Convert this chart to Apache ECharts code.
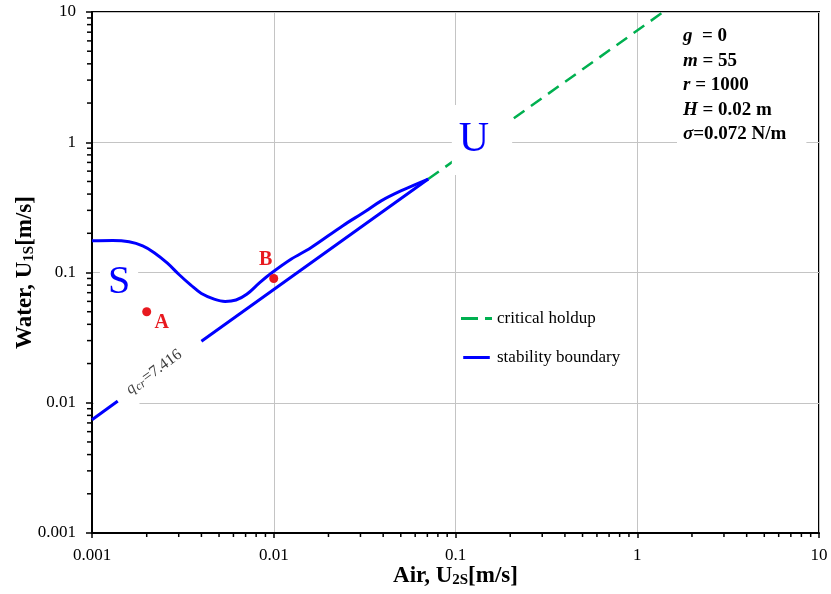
<!DOCTYPE html>
<html>
<head>
<meta charset="utf-8">
<script src="https://cdn.jsdelivr.net/npm/echarts@6/dist/echarts.min.js"></script>
<style>
html,body{margin:0;padding:0;background:#fff;}
#c{width:831px;height:594px;}
</style>
</head>
<body>
<div id="c"></div>
<script>
// ---------- data ----------
const decadeTicks = [0.001, 0.01, 0.1, 1, 10];
const minorMultipliers = [2, 3, 4, 5, 6, 7, 8, 9];

// critical holdup (green dashed)
const holdupX = [0.0708, 1.39];
const holdupY = [0.522, 10];

// stability boundary - upper (curved) branch
const upperX = [0.001, 0.0013, 0.0016, 0.0019, 0.0022, 0.0026, 0.003, 0.0035, 0.004, 0.0047, 0.0054, 0.0062, 0.0071, 0.0084, 0.0098, 0.0125, 0.016, 0.024, 0.032, 0.039, 0.05, 0.0708];
const upperY = [0.175, 0.176, 0.172, 0.16, 0.142, 0.118, 0.097, 0.08, 0.069, 0.0625, 0.06, 0.0615, 0.068, 0.084, 0.1, 0.127, 0.155, 0.229, 0.295, 0.355, 0.423, 0.522];

// stability boundary - lower straight branch (gap for q_cr label)
const lowerX = [0.0708, 0.004, null, 0.0014, 0.001];
const lowerY = [0.522, 0.0297, null, 0.0104, 0.0074];

// labelled operating points
const pointNames = ['A', 'B'];
const pointX = [0.002, 0.01];
const pointY = [0.05, 0.09];

const legendNames = ['critical holdup', 'stability boundary'];
const paramLines = [['g', '  = 0'], ['m', ' = 55'], ['r', ' = 1000'], ['H', ' = 0.02 m'], ['σ', '=0.072 N/m']];

// ---------- build ----------
const FONT = 'Liberation Serif, Times New Roman, serif';
const BLUE = '#0000ff';
const GREEN = '#00b050';
const RED = '#e8191f';
const XMIN = 0.001, XMAX = 10, YMIN = 0.001, YMAX = 10;

const zip = (xs, ys) => xs.map((x, i) => (x === null ? [null, null] : [x, ys[i]]));

const minorTicks = [];
decadeTicks.slice(0, -1).forEach(d => minorMultipliers.forEach(m => minorTicks.push(+(d * m).toPrecision(6))));

const pointsData = pointNames.map((n, i) => ({
  name: n,
  value: [pointX[i], pointY[i]],
  label: n === 'A' ? { offset: [15, 11] } : { offset: [-8, -19] }
}));

const chart = echarts.init(document.getElementById('c'), null, { renderer: 'canvas' });

const option = {
  animation: false,
  backgroundColor: '#fff',
  grid: {
    left: 92, right: 12, top: 12, bottom: 61,
    outerBoundsMode: 'none', containLabel: false,
    show: true, borderColor: '#000', borderWidth: 2, backgroundColor: 'transparent'
  },
  legend: {
    data: [
      { name: legendNames[0], icon: 'path://M0,0h17v3h-17z M24,0h7v3h-7z', itemStyle: { color: GREEN } },
      { name: legendNames[1], icon: 'path://M0,0h31v3.5h-31z', itemStyle: { color: BLUE } }
    ],
    orient: 'vertical',
    left: 456,
    top: 305,
    itemWidth: 31,
    itemHeight: 3,
    itemGap: 22,
    textStyle: { fontFamily: FONT, fontSize: 17, color: '#000' },
    selectedMode: false
  },
  xAxis: {
    type: 'log', logBase: 10, min: XMIN, max: XMAX,
    axisLine: { lineStyle: { color: '#000', width: 2 } },
    axisTick: { show: true, length: 5, lineStyle: { color: '#000', width: 1.5 } },
    minorTick: { show: false },
    splitLine: { show: true, lineStyle: { color: '#c4c4c4', width: 1 } },
    axisLabel: { fontFamily: FONT, fontSize: 17, color: '#000', margin: 14 },
    name: 'Air, U{sub|2S}[m/s]',
    nameLocation: 'middle',
    nameGap: 31,
    nameMoveOverlap: false,
    nameTextStyle: {
      fontFamily: FONT, fontSize: 23, fontWeight: 'bold', color: '#000',
      rich: { sub: { fontFamily: FONT, fontSize: 15, fontWeight: 'bold', color: '#000', verticalAlign: 'bottom', padding: [9, 0, 0, 0] } }
    }
  },
  yAxis: {
    type: 'log', logBase: 10, min: YMIN, max: YMAX,
    axisLine: { lineStyle: { color: '#000', width: 2 } },
    axisTick: { show: true, length: 6, lineStyle: { color: '#000', width: 1.5 } },
    minorTick: { show: false },
    splitLine: { show: true, lineStyle: { color: '#c4c4c4', width: 1 } },
    axisLabel: { fontFamily: FONT, fontSize: 17, color: '#000', margin: 16 },
    name: 'Water, U{sub|1S}[m/s]',
    nameLocation: 'middle',
    nameGap: 55,
    nameMoveOverlap: false,
    nameTextStyle: {
      fontFamily: FONT, fontSize: 23, fontWeight: 'bold', color: '#000',
      rich: { sub: { fontFamily: FONT, fontSize: 15, fontWeight: 'bold', color: '#000', verticalAlign: 'bottom', padding: [9, 0, 0, 0] } }
    }
  },
  series: [
    {
      name: legendNames[0], type: 'line', data: zip(holdupX, holdupY),
      symbol: 'none', showSymbol: false,
      lineStyle: { color: GREEN, width: 2.5, type: [13, 8] },
      itemStyle: { color: GREEN }, z: 3
    },
    {
      name: legendNames[1], type: 'line', data: zip(upperX, upperY),
      symbol: 'none', showSymbol: false, smooth: 0.35,
      lineStyle: { color: BLUE, width: 3 }, itemStyle: { color: BLUE }, z: 4
    },
    {
      name: legendNames[1], type: 'line', data: zip(lowerX, lowerY),
      symbol: 'none', showSymbol: false, connectNulls: false,
      lineStyle: { color: BLUE, width: 3 }, itemStyle: { color: BLUE }, z: 4
    },
    {
      name: 'points', type: 'scatter', data: pointsData,
      symbol: 'circle', symbolSize: 9,
      itemStyle: { color: RED, opacity: 1 },
      label: { show: true, formatter: p => p.name, fontFamily: FONT, fontSize: 20, fontWeight: 'bold', color: RED, opacity: 1, position: 'inside' },
      emphasis: { disabled: true },
      z: 6
    },
    {
      name: 'xMinorTicks', type: 'custom', silent: true, clip: false,
      data: minorTicks.map(v => [v, YMIN]),
      renderItem: (params, api) => {
        const p = api.coord([api.value(0), YMIN]);
        return { type: 'line', shape: { x1: p[0], y1: p[1], x2: p[0], y2: p[1] + 4 }, style: { stroke: '#000', lineWidth: 1.5 } };
      }, z: 10
    },
    {
      name: 'yMinorTicks', type: 'custom', silent: true, clip: false,
      data: minorTicks.map(v => [XMIN, v]),
      renderItem: (params, api) => {
        const p = api.coord([XMIN, api.value(1)]);
        return { type: 'line', shape: { x1: p[0] - 5, y1: p[1], x2: p[0], y2: p[1] }, style: { stroke: '#000', lineWidth: 1.5 } };
      }, z: 10
    }
  ],
  graphic: [
    {
      // white patch behind the q_cr label area (hides the 0.01 gridline there, below the curves)
      type: 'rect', z: 1, shape: { x: 94, y: 399, width: 34, height: 8 }, style: { fill: '#fff' }
    },
    {
      type: 'text', x: 482, y: 140, z: 100,
      style: { text: 'U', font: '42px ' + FONT, fill: BLUE, align: 'center', verticalAlign: 'middle', backgroundColor: '#fff', padding: [13, 23, 15, 7] }
    },
    {
      type: 'text', x: 119, y: 282, z: 100,
      style: { text: 'S', font: '40px ' + FONT, fill: BLUE, align: 'center', verticalAlign: 'middle', backgroundColor: '#fff', padding: [2, 8] }
    },
    {
      type: 'text', x: 154, y: 372, z: 100, rotation: 36 * Math.PI / 180,
      style: {
        text: '{q|q}{s|cr}{n|=7.416}', align: 'center', verticalAlign: 'middle', backgroundColor: '#fff', padding: [8, 14],
        rich: {
          q: { font: 'italic 16px ' + FONT, fill: '#404040' },
          s: { font: 'italic 12px ' + FONT, fill: '#404040', verticalAlign: 'bottom', padding: [6, 1, 0, 1] },
          n: { font: '16px ' + FONT, fill: '#404040' }
        }
      }
    },
    {
      type: 'text', x: 677, y: 22, z: 100,
      style: {
        text: paramLines.map(l => '{i|' + l[0] + '}{b|' + l[1] + '}').join('\n'),
        align: 'left', verticalAlign: 'top', backgroundColor: '#fff', padding: [2, 20, 4, 6],
        rich: {
          i: { font: 'italic bold 19px ' + FONT, fill: '#000', lineHeight: 24.5 },
          b: { font: 'bold 19px ' + FONT, fill: '#000', lineHeight: 24.5 }
        }
      }
    }
  ]
};
chart.setOption(option);
</script>
</body>
</html>
